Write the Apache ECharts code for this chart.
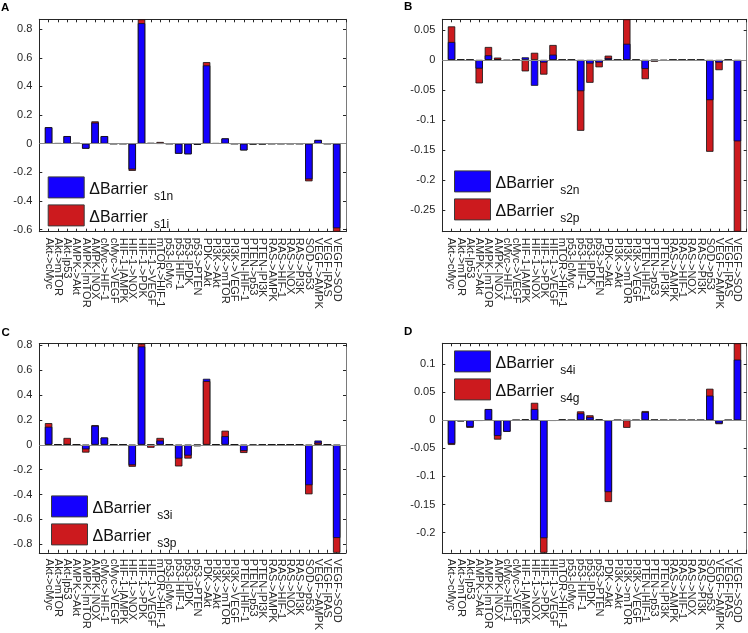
<!DOCTYPE html>
<html>
<head>
<meta charset="utf-8">
<script src="https://cdn.jsdelivr.net/npm/echarts@6/dist/echarts.min.js"></script>
<style>
html,body{margin:0;padding:0;background:#fff;}
#chart{width:748px;height:633px;}
</style>
</head>
<body>
<div id="chart"></div>
<script>
// ---------- data ----------
const categories = [
  'Akt->cMyc','Akt->mTOR','Akt-|p53','AMPK->Akt','AMPK-|mTOR','AMPK-|NOX','cMyc->HIF-1','cMyc->VEGF',
  'HIF-1-|AMPK','HIF-1->NOX','HIF-1->PDK','HIF-1->VEGF','mTOR->HIF-1','p53-|cMyc','p53-|HIF-1','p53-|PDK',
  'p53->PTEN','PDK->Akt','PI3K->Akt','PI3K->mTOR','PI3K->VEGF','PTEN-|HIF-1','PTEN->p53','PTEN-|PI3K',
  'RAS->AMPK','RAS->HIF-1','RAS->NOX','RAS->PI3K','SOD->p53','VEGF->AMPK','VEGF-|RAS','VEGF->SOD'
];

const namesA = ['ΔBarrier s1n', 'ΔBarrier s1i'];
const blueA = [0.115,0.003,0.053,0.004,-0.035,0.147,0.053,0,0,-0.180,0.842,0.004,0.002,0,-0.070,-0.074,
               -0.007,0.547,0.003,0.037,0,-0.047,-0.004,-0.003,0,0,0,0,-0.249,0.026,0,-0.591];
const redA  = [0.115,0.003,0.053,0.004,-0.035,0.156,0.053,0,0,-0.190,0.869,0.004,0.012,0,-0.070,-0.074,
               -0.007,0.570,0.003,0.037,0,-0.047,-0.004,-0.003,0,0,0,0,-0.263,0.026,0,-0.615];

const namesB = ['ΔBarrier s2n', 'ΔBarrier s2p'];
const blueB = [0.030,0.0005,0,-0.0144,0.0078,0.001,-0.001,0,0.0044,-0.043,-0.0044,0.0089,0,0,-0.052,-0.006,
               -0.0044,0.0033,0,0.027,0,-0.015,-0.0005,-0.001,0,0,0,0,-0.067,-0.0044,0,-0.1356];
const redB  = [0.056,0.0005,0,-0.039,0.0217,0.004,-0.0015,0,-0.019,0.012,-0.0244,0.025,0,0,-0.118,-0.038,
               -0.0122,0.0072,0,0.0678,0,-0.032,-0.003,-0.0015,0,0,0,0,-0.153,-0.017,0,-0.2862];

const namesC = ['ΔBarrier s3i', 'ΔBarrier s3p'];
const blueC = [0.145,0.003,0,0,-0.037,0.153,0.058,0,0,-0.164,0.790,-0.001,0.034,0,-0.111,-0.087,
               -0.004,0.530,0.002,0.069,0,-0.050,-0.005,-0.002,0,0,0,0,-0.325,0.034,0,-0.749];
const redC  = [0.174,0.003,0.055,0,-0.063,0.158,0.058,0,0,-0.177,0.812,-0.024,0.055,0,-0.174,-0.111,
               -0.013,0.512,0.002,0.113,0,-0.066,-0.005,-0.002,0,0,0,0,-0.398,0.018,0,-0.868];

const namesD = ['ΔBarrier s4i', 'ΔBarrier s4g'];
const blueD = [-0.042,-0.002,-0.012,-0.001,0.0199,-0.028,-0.0205,0,0.001,0.0199,-0.210,-0.001,0.001,0,0.0123,0.0058,
               0.001,-0.128,0,0,0,0.0146,0.0005,0,0,0,0,0,0.0439,-0.0058,0,0.108];
const redD  = [-0.044,-0.002,-0.0135,-0.001,0.0199,-0.0345,-0.0205,0,0.001,0.031,-0.236,-0.001,0.001,0,0.0158,0.0088,
               0.001,-0.1456,0,-0.0135,0,0.0164,0.0005,0,0,0,0,0,0.0561,-0.007,0,0.137];

const ticksA = [-0.6,-0.4,-0.2,0,0.2,0.4,0.6,0.8];
const ticksB = [-0.25,-0.2,-0.15,-0.1,-0.05,0,0.05];
const ticksC = [-0.8,-0.6,-0.4,-0.2,0,0.2,0.4,0.6,0.8];
const ticksD = [-0.2,-0.15,-0.1,-0.05,0,0.05,0.1];

const panelLabels = ['A','B','C','D'];

// ---------- build ----------
const FONT = 'Liberation Sans, Arial, Helvetica, sans-serif';
const BLUE = '#1400ff', RED = '#cc1a1e', AXIS = '#262626';
const xData = [''].concat(categories, ['']);
const pad = arr => ['-'].concat(arr, ['-']);

const panels = [
  {names:namesA, blue:blueA, red:redA, ticks:ticksA, min:-0.615, max:0.869,
   grid:{left:39.3, top:19.3, width:306.7, height:212.4}, legend:{left:47.7, top:176.4}, label:{left:1, top:1.5}},
  {names:namesB, blue:blueB, red:redB, ticks:ticksB, min:-0.2862, max:0.0678,
   grid:{left:442.3, top:19.3, width:304.4, height:212.4}, legend:{left:454, top:170.4}, label:{left:404, top:1}},
  {names:namesC, blue:blueC, red:redC, ticks:ticksC, min:-0.868, max:0.812,
   grid:{left:39.3, top:343.7, width:306.7, height:212.3}, legend:{left:51, top:495.4}, label:{left:1.5, top:326.5}},
  {names:namesD, blue:blueD, red:redD, ticks:ticksD, min:-0.236, max:0.137,
   grid:{left:442.3, top:343.3, width:304.4, height:212.7}, legend:{left:454, top:350.4}, label:{left:404, top:326}}
];

const option = {animation:false, grid:[], xAxis:[], yAxis:[], series:[], legend:[], graphic:[]};

panels.forEach((p, gi) => {
  option.grid.push(Object.assign({containLabel:false}, p.grid));
  const xb = option.xAxis.length;
  option.xAxis.push({
    type:'category', gridIndex:gi, data:xData, boundaryGap:false, position:'bottom',
    axisLine:{show:true, onZero:false, lineStyle:{color:AXIS, width:1}},
    axisTick:{show:true, inside:true, length:3, interval:0, lineStyle:{color:AXIS}},
    axisLabel:{show:true, interval:0, rotate:-90, margin:6, fontSize:11, color:AXIS, fontFamily:FONT},
    splitLine:{show:false}
  });
  option.xAxis.push({
    type:'category', gridIndex:gi, data:xData, boundaryGap:false, position:'top',
    axisLine:{show:true, onZero:false, lineStyle:{color:AXIS, width:1}},
    axisTick:{show:true, inside:true, length:3, interval:0, lineStyle:{color:AXIS}},
    axisLabel:{show:false}, splitLine:{show:false}
  });
  const yb = option.yAxis.length;
  option.yAxis.push({
    type:'value', gridIndex:gi, min:p.min, max:p.max, position:'left',
    axisLine:{show:true, onZero:false, lineStyle:{color:AXIS, width:1}},
    axisTick:{show:true, inside:true, length:3, customValues:p.ticks, lineStyle:{color:AXIS}},
    axisLabel:{show:true, customValues:p.ticks, margin:7, fontSize:11, color:AXIS, fontFamily:FONT,
               formatter: v => String(v)},
    splitLine:{show:false}
  });
  option.yAxis.push({
    type:'value', gridIndex:gi, min:p.min, max:p.max, position:'right',
    axisLine:{show:true, onZero:false, lineStyle:{color:'#7a7a7a', width:1}},
    axisTick:{show:true, inside:true, length:3, customValues:p.ticks, lineStyle:{color:AXIS}},
    axisLabel:{show:false}, splitLine:{show:false}
  });

  // smaller magnitude drawn in front
  const back = [], front = [];
  p.blue.forEach((b, i) => {
    const r = p.red[i];
    const inFront = (b * r <= 0) || Math.abs(b) <= Math.abs(r);
    back.push(inFront ? '-' : b);
    front.push(inFront ? b : '-');
  });
  const common = {type:'bar', xAxisIndex:xb, yAxisIndex:yb, barWidth:'80%', barGap:'-100%'};
  const edge = {borderColor:'#111', borderWidth:0.8};
  option.series.push(Object.assign({}, common, {name:p.names[0], data:pad(back),
    itemStyle:Object.assign({color:BLUE}, edge)}));
  option.series.push(Object.assign({}, common, {name:p.names[1], data:pad(p.red),
    itemStyle:Object.assign({color:RED}, edge),
    markLine:{silent:true, symbol:['none','none'], label:{show:false},
      lineStyle:{color:'#8a8a8a', width:1, type:'solid'}, data:[{yAxis:0}]}}));
  option.series.push(Object.assign({}, common, {name:p.names[0], data:pad(front),
    itemStyle:Object.assign({color:BLUE}, edge)}));

  option.legend.push({
    data:p.names, orient:'vertical', left:p.legend.left, top:p.legend.top, padding:0,
    itemWidth:36, itemHeight:21, itemGap:1.5, icon:'rect', selectedMode:false,
    itemStyle:{borderColor:'#3a3a3a', borderWidth:1},
    formatter: n => '{a|' + n.split(' ')[0] + '}{b|' + n.split(' ')[1] + '}',
    textStyle:{color:'#111', fontFamily:FONT, rich:{
      a:{fontSize:16, lineHeight:16, padding:[1.7,0,0,0], verticalAlign:'top', fontFamily:FONT, color:'#111'},
      b:{fontSize:12, lineHeight:12, padding:[11.5,0,0,6], verticalAlign:'top', fontFamily:FONT, color:'#111'}
    }}
  });

  option.graphic.push({type:'text', left:p.label.left, top:p.label.top,
    style:{text:panelLabels[gi], font:'bold 11.5px ' + FONT, fill:'#000'}});
});

const chart = echarts.init(document.getElementById('chart'), null, {renderer:'canvas'});
chart.setOption(option);
</script>
</body>
</html>
